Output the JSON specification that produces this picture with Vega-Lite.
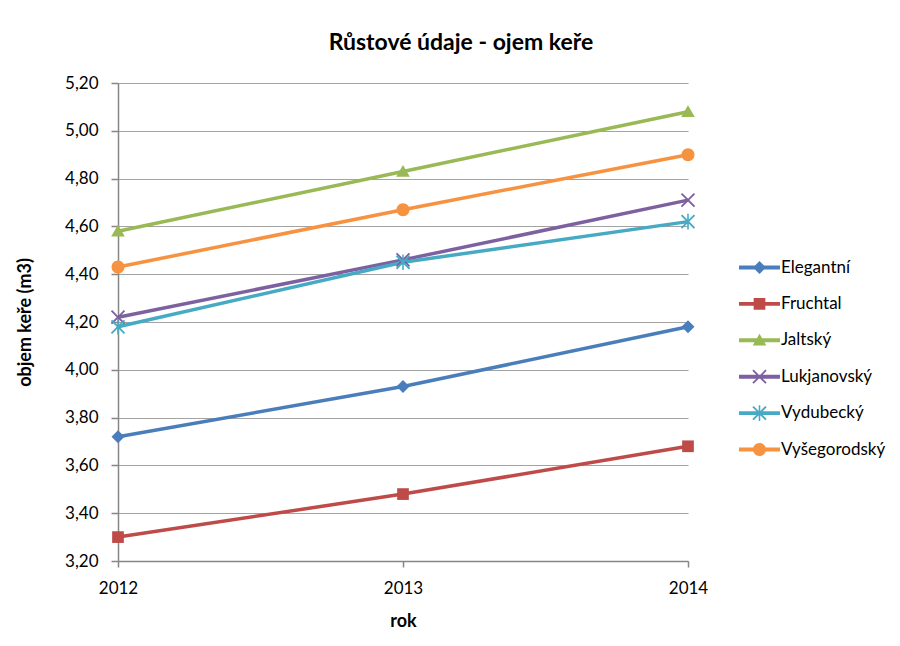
{
  "$schema": "https://vega.github.io/schema/vega-lite/v6.json",
  "width": 570,
  "height": 478,
  "autosize": {"type": "none"},
  "padding": {"left": 118, "top": 83, "right": 212, "bottom": 85},
  "background": "white",
  "title": {
    "text": "Růstové údaje - ojem keře",
    "font": "Lato",
    "fontSize": 23,
    "fontWeight": "bold",
    "color": "#000000",
    "anchor": "middle",
    "frame": "group",
    "dx": 58,
    "offset": 19
  },
  "data": {
    "values": [
      {"rok": 2012, "odruda": "Elegantní", "objem": 3.72},
      {"rok": 2013, "odruda": "Elegantní", "objem": 3.93},
      {"rok": 2014, "odruda": "Elegantní", "objem": 4.18},
      {"rok": 2012, "odruda": "Fruchtal", "objem": 3.30},
      {"rok": 2013, "odruda": "Fruchtal", "objem": 3.48},
      {"rok": 2014, "odruda": "Fruchtal", "objem": 3.68},
      {"rok": 2012, "odruda": "Jaltský", "objem": 4.58},
      {"rok": 2013, "odruda": "Jaltský", "objem": 4.83},
      {"rok": 2014, "odruda": "Jaltský", "objem": 5.08},
      {"rok": 2012, "odruda": "Lukjanovský", "objem": 4.22},
      {"rok": 2013, "odruda": "Lukjanovský", "objem": 4.46},
      {"rok": 2014, "odruda": "Lukjanovský", "objem": 4.71},
      {"rok": 2012, "odruda": "Vydubecký", "objem": 4.18},
      {"rok": 2013, "odruda": "Vydubecký", "objem": 4.45},
      {"rok": 2014, "odruda": "Vydubecký", "objem": 4.62},
      {"rok": 2012, "odruda": "Vyšegorodský", "objem": 4.43},
      {"rok": 2013, "odruda": "Vyšegorodský", "objem": 4.67},
      {"rok": 2014, "odruda": "Vyšegorodský", "objem": 4.90}
    ]
  },
  "encoding": {
    "x": {
      "field": "rok",
      "type": "ordinal",
      "scale": {"type": "point", "padding": 0},
      "axis": {
        "title": "rok",
        "labelAngle": 0,
        "grid": false,
        "labelOverlap": false,
        "domainColor": "#868686",
        "domainWidth": 1.5,
        "tickColor": "#868686",
        "tickWidth": 1.5,
        "tickSize": 6,
        "labelPadding": 13,
        "labelFont": "Lato",
        "labelFontSize": 17,
        "labelColor": "#000000",
        "titleFont": "Lato",
        "titleFontSize": 18,
        "titleFontWeight": "bold",
        "titleColor": "#000000",
        "titlePadding": 16
      }
    },
    "y": {
      "field": "objem",
      "type": "quantitative",
      "scale": {"domain": [3.2, 5.2], "nice": false, "zero": false},
      "axis": {
        "title": "objem keře (m3)",
        "values": [3.2, 3.4, 3.6, 3.8, 4.0, 4.2, 4.4, 4.6, 4.8, 5.0, 5.2],
        "labelExpr": "replace(format(datum.value, '.2f'), '.', ',')",
        "labelOverlap": false,
        "grid": true,
        "gridColor": "#a3a3a3",
        "gridWidth": 1.2,
        "domainColor": "#868686",
        "domainWidth": 1.5,
        "tickColor": "#868686",
        "tickWidth": 1.5,
        "tickSize": 7,
        "labelPadding": 13,
        "labelFont": "Lato",
        "labelFontSize": 17,
        "labelColor": "#000000",
        "titleFont": "Lato",
        "titleFontSize": 18,
        "titleFontWeight": "bold",
        "titleColor": "#000000",
        "titlePadding": 30
      }
    }
  },
  "layer": [
    {
      "mark": {"type": "line", "strokeWidth": 3.5},
      "encoding": {
        "color": {
          "field": "odruda",
          "type": "nominal",
          "scale": {
            "domain": ["Elegantní", "Fruchtal", "Jaltský", "Lukjanovský", "Vydubecký", "Vyšegorodský"],
            "range": ["#4A7EBB", "#BE4B48", "#98B954", "#7D60A0", "#46AAC5", "#F69240"]
          },
          "legend": null
        }
      }
    },
    {
      "mark": {"type": "point", "filled": true, "size": 169, "opacity": 1, "strokeWidth": 0},
      "encoding": {
        "color": {
          "field": "odruda",
          "type": "nominal",
          "scale": {
            "domain": ["Elegantní", "Fruchtal", "Jaltský", "Lukjanovský", "Vydubecký", "Vyšegorodský"],
            "range": ["#4A7EBB", "#BE4B48", "#98B954", "#7D60A0", "#46AAC5", "#F69240"]
          },
          "legend": null
        },
        "shape": {
          "field": "odruda",
          "type": "nominal",
          "scale": {
            "domain": ["Elegantní", "Fruchtal", "Jaltský", "Lukjanovský", "Vydubecký", "Vyšegorodský"],
            "range": [
              "M0,-1L1,0L0,1L-1,0Z",
              "M-0.9,-0.9H0.9V0.9H-0.9Z",
              "M0,-1L1.05,0.8H-1.05Z",
              "M1.1,0.9L0.9,1.1L0,0.2L-0.9,1.1L-1.1,0.9L-0.2,0L-1.1,-0.9L-0.9,-1.1L0,-0.2L0.9,-1.1L1.1,-0.9L0.2,0Z",
              "M1.1,0.9L0.9,1.1L0,0.2L-0.9,1.1L-1.1,0.9L-0.2,0L-1.1,-0.9L-0.9,-1.1L0,-0.2L0.9,-1.1L1.1,-0.9L0.2,0ZM-0.12,-1.2H0.12V1.2H-0.12Z",
              "M1,0A1,1,0,1,1,-1,0A1,1,0,1,1,1,0Z"
            ]
          },
          "legend": null
        }
      }
    },
    {
      "mark": {"type": "point", "filled": true, "size": 169, "opacity": 0, "strokeWidth": 0},
      "encoding": {
        "color": {
          "field": "odruda",
          "type": "nominal",
          "scale": {
            "domain": ["Elegantní", "Fruchtal", "Jaltský", "Lukjanovský", "Vydubecký", "Vyšegorodský"],
            "range": ["#4A7EBB", "#BE4B48", "#98B954", "#7D60A0", "#46AAC5", "#F69240"]
          },
          "legend": {
            "title": null,
            "orient": "none",
            "legendX": 633,
            "legendY": 176,
            "symbolSize": 169,
            "symbolOpacity": 1,
            "symbolStrokeWidth": 0,
            "labelFont": "Lato",
            "labelFontSize": 17,
            "labelColor": "#000000",
            "labelOffset": 13,
            "rowPadding": 18.4
          }
        },
        "shape": {
          "field": "odruda",
          "type": "nominal",
          "scale": {
            "domain": ["Elegantní", "Fruchtal", "Jaltský", "Lukjanovský", "Vydubecký", "Vyšegorodský"],
            "range": [
              "M-3.15,-0.3H3.15V0.3H-3.15ZM0,-1L1,0L0,1L-1,0Z",
              "M-3.15,-0.3H3.15V0.3H-3.15ZM-0.9,-0.9H0.9V0.9H-0.9Z",
              "M-3.15,-0.3H3.15V0.3H-3.15ZM0,-1L1.05,0.8H-1.05Z",
              "M-3.15,-0.3H3.15V0.3H-3.15ZM1.1,0.9L0.9,1.1L0,0.2L-0.9,1.1L-1.1,0.9L-0.2,0L-1.1,-0.9L-0.9,-1.1L0,-0.2L0.9,-1.1L1.1,-0.9L0.2,0Z",
              "M-3.15,-0.3H3.15V0.3H-3.15ZM1.1,0.9L0.9,1.1L0,0.2L-0.9,1.1L-1.1,0.9L-0.2,0L-1.1,-0.9L-0.9,-1.1L0,-0.2L0.9,-1.1L1.1,-0.9L0.2,0ZM-0.12,-1.2H0.12V1.2H-0.12Z",
              "M-3.15,-0.3H3.15V0.3H-3.15ZM1,0A1,1,0,1,1,-1,0A1,1,0,1,1,1,0Z"
            ]
          },
          "legend": {
            "title": null,
            "orient": "none",
            "legendX": 633,
            "legendY": 176,
            "symbolSize": 169,
            "symbolOpacity": 1,
            "symbolStrokeWidth": 0,
            "labelFont": "Lato",
            "labelFontSize": 17,
            "labelColor": "#000000",
            "labelOffset": 13,
            "rowPadding": 18.4
          }
        }
      }
    }
  ],
  "resolve": {
    "scale": {"color": "independent", "shape": "independent"},
    "legend": {"color": "independent", "shape": "independent"}
  },
  "config": {
    "view": {"stroke": null}
  }
}
